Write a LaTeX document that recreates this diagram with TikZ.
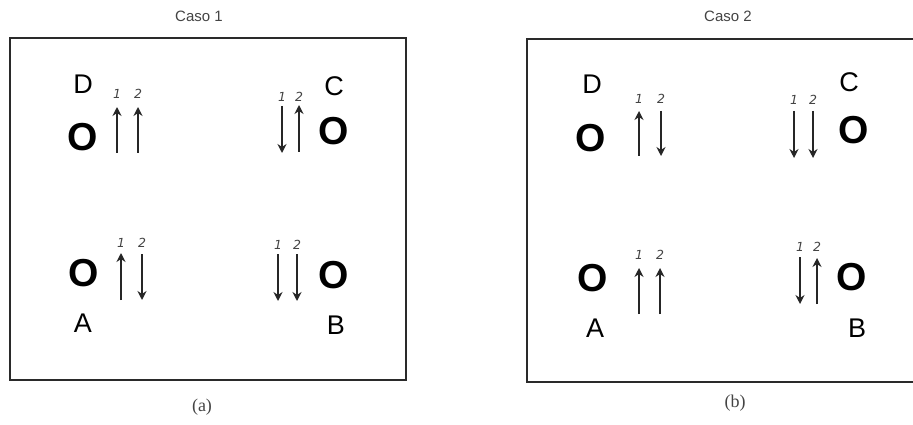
\documentclass[tikz,border=0pt]{standalone}
\usepackage{fontspec}
\setmainfont{Liberation Sans}
\newfontfamily\serifcap{Liberation Serif}
\newfontfamily\numfont{DejaVu Sans}
\usetikzlibrary{arrows.meta}
\definecolor{boxc}{HTML}{2A2A2A}
\definecolor{capc}{HTML}{444444}
\definecolor{numc}{HTML}{444444}
\tikzset{
  panel/.style={draw=boxc, line width=2.2pt},
  title/.style={inner sep=0pt, text=capc, font=\fontsize{15}{15}\selectfont},
  sublabel/.style={inner sep=0pt, text=capc, font=\serifcap\fontsize{18}{18}\selectfont},
  letter/.style={inner sep=0pt, font=\fontsize{27}{27}\selectfont},
  atom/.style={inner sep=0pt, font=\bfseries\fontsize{39}{39}\selectfont},
  num/.style={inner sep=0pt, text=numc, font=\numfont\itshape\fontsize{12.5}{12.5}\selectfont},
  arr/.style={line width=2pt, draw=black!85, -{Stealth[length=9pt,width=9pt,inset=3pt]}}
}
\begin{document}
\begin{tikzpicture}[x=1pt,y=-1pt]
\useasboundingbox (0,0) rectangle (913,425);
\clip (0,0) rectangle (913,425);
\fill[white] (0,0) rectangle (913,425);
% ---------------- Panel (a)
\node[title] (t1) at (199,16) {Caso 1};
\draw[panel] (10,38) rectangle (406,380);
\node[sublabel] (sa) at (202,407) {(a)};
% D
\node[letter] (aD) at (83,84) {D};
\node[atom] (aOD) at (83,137) {O};
\node[num] (aD1) at (117,94) {1};
\node[num] (aD2) at (138,94) {2};
\coordinate (aD1b) at (117,153); \coordinate (aD1t) at (117,107);
\coordinate (aD2b) at (138,153); \coordinate (aD2t) at (138,107);
\draw[arr] (aD1b) -- (aD1t);
\draw[arr] (aD2b) -- (aD2t);
% C
\node[letter] (aC) at (334,86) {C};
\node[atom] (aOC) at (334,131) {O};
\node[num] (aC1) at (282,97) {1};
\node[num] (aC2) at (299,97) {2};
\coordinate (aC1t) at (282,106); \coordinate (aC1b) at (282,153);
\coordinate (aC2t) at (299,105); \coordinate (aC2b) at (299,152);
\draw[arr] (aC1t) -- (aC1b);
\draw[arr] (aC2b) -- (aC2t);
% A
\node[atom] (aOA) at (84,273) {O};
\node[letter] (aA) at (83,323) {A};
\node[num] (aA1) at (121,243) {1};
\node[num] (aA2) at (142,243) {2};
\coordinate (aA1b) at (121,300); \coordinate (aA1t) at (121,253);
\coordinate (aA2t) at (142,254); \coordinate (aA2b) at (142,300);
\draw[arr] (aA1b) -- (aA1t);
\draw[arr] (aA2t) -- (aA2b);
% B
\node[atom] (aOB) at (334,275) {O};
\node[letter] (aB) at (336,325) {B};
\node[num] (aB1) at (278,245) {1};
\node[num] (aB2) at (297,245) {2};
\coordinate (aB1t) at (278,254); \coordinate (aB1b) at (278,301);
\coordinate (aB2t) at (297,254); \coordinate (aB2b) at (297,301);
\draw[arr] (aB1t) -- (aB1b);
\draw[arr] (aB2t) -- (aB2b);
% ---------------- Panel (b)
\node[title] (t2) at (728,16) {Caso 2};
\draw[panel] (527,39) rectangle (925,382);
\node[sublabel] (sb) at (735,403) {(b)};
% D
\node[letter] (bD) at (592,84) {D};
\node[atom] (bOD) at (591,138) {O};
\node[num] (bD1) at (639,99) {1};
\node[num] (bD2) at (661,99) {2};
\coordinate (bD1b) at (639,156); \coordinate (bD1t) at (639,111);
\coordinate (bD2t) at (661,111); \coordinate (bD2b) at (661,156);
\draw[arr] (bD1b) -- (bD1t);
\draw[arr] (bD2t) -- (bD2b);
% C
\node[letter] (bC) at (849,82) {C};
\node[atom] (bOC) at (854,130) {O};
\node[num] (bC1) at (794,100) {1};
\node[num] (bC2) at (813,100) {2};
\coordinate (bC1t) at (794,111); \coordinate (bC1b) at (794,158);
\coordinate (bC2t) at (813,111); \coordinate (bC2b) at (813,158);
\draw[arr] (bC1t) -- (bC1b);
\draw[arr] (bC2t) -- (bC2b);
% A
\node[atom] (bOA) at (593,278) {O};
\node[letter] (bA) at (595,328) {A};
\node[num] (bA1) at (639,255) {1};
\node[num] (bA2) at (660,255) {2};
\coordinate (bA1b) at (639,314); \coordinate (bA1t) at (639,268);
\coordinate (bA2b) at (660,314); \coordinate (bA2t) at (660,268);
\draw[arr] (bA1b) -- (bA1t);
\draw[arr] (bA2b) -- (bA2t);
% B
\node[atom] (bOB) at (852,277) {O};
\node[letter] (bB) at (857,328) {B};
\node[num] (bB1) at (800,247) {1};
\node[num] (bB2) at (817,247) {2};
\coordinate (bB1t) at (800,257); \coordinate (bB1b) at (800,304);
\coordinate (bB2b) at (817,304); \coordinate (bB2t) at (817,258);
\draw[arr] (bB1t) -- (bB1b);
\draw[arr] (bB2b) -- (bB2t);
\end{tikzpicture}
\end{document}
